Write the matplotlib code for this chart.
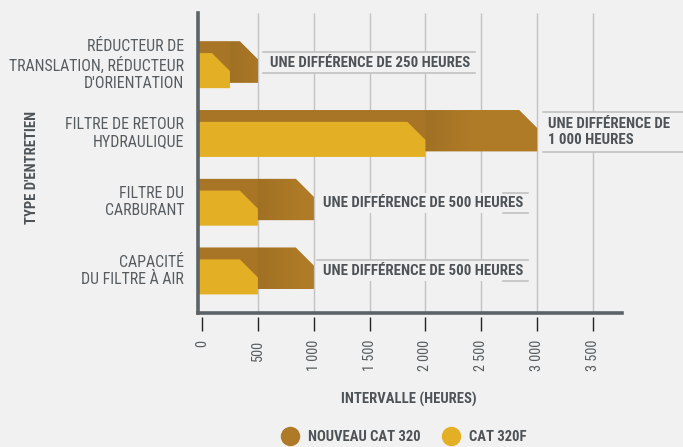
import numpy as np
import matplotlib
matplotlib.use("Agg")
import matplotlib.pyplot as plt
from matplotlib import font_manager
from matplotlib.colors import to_rgb
from matplotlib.patches import Polygon, Rectangle
from matplotlib.lines import Line2D

# Data
categories = ["RÉDUCTEUR DE\nTRANSLATION, RÉDUCTEUR\nD'ORIENTATION",
              "FILTRE DE RETOUR\nHYDRAULIQUE",
              "FILTRE DU\nCARBURANT",
              "CAPACITÉ\nDU FILTRE À AIR"]
new_cat320 = [500, 3000, 1000, 1000]
cat320f = [250, 2000, 500, 500]
diff_labels = ["UNE DIFFÉRENCE DE 250 HEURES",
               "UNE DIFFÉRENCE DE\n1 000 HEURES",
               "UNE DIFFÉRENCE DE 500 HEURES",
               "UNE DIFFÉRENCE DE 500 HEURES"]
xticks = [0, 500, 1000, 1500, 2000, 2500, 3000, 3500]
xtick_labels = ["0", "500", "1 000", "1 500", "2 000", "2 500", "3 000", "3 500"]
series_names = ["NOUVEAU CAT 320", "CAT 320F"]

# Fonts: prefer a condensed face
names = {f.name for f in font_manager.fontManager.ttflist}
fam = "Roboto Condensed" if "Roboto Condensed" in names else "DejaVu Sans"
plt.rcParams["font.family"] = [fam, "DejaVu Sans"]

bg = "#F1F1F1"
dark_col = "#AE7A27"
light_col = "#E3AF24"
spine_col = "#5C6366"
grid_col = "#C2C2C2"
text_dark = "#4E5357"
text_cat = "#565C60"

fig = plt.figure(figsize=(6.83, 4.47), dpi=100, facecolor=bg)
ax = fig.add_axes([198 / 683, 1 - 313 / 447, 424 / 683, 300 / 447])
ax.set_facecolor(bg)

x0, x1 = -36, 3760
y_lo, y_hi = 3.65, -0.713
ax.set_xlim(x0, x1)
ax.set_ylim(y_lo, y_hi)

# grid lines (none at zero, the spine sits there)
ax.vlines(xticks[1:], y_hi, y_lo, color=grid_col, lw=1, zorder=0)

cx = 161     # chamfer width in hours
cy = 0.262   # chamfer height in category units


def chamfer_bar(val, top, bottom, color, z):
    pts = [(x0, top), (val - cx, top), (val, top + cy), (val, bottom), (x0, bottom)]
    poly = Polygon(pts, closed=True, facecolor=color, edgecolor="none", zorder=z)
    ax.add_patch(poly)
    return poly


base = np.array(to_rgb(dark_col))
for i in range(len(categories)):
    poly = chamfer_bar(new_cat320[i], i - 0.30, i + 0.30, dark_col, 2)
    # soft shadow cast by the front bar onto the back bar
    xs = np.linspace(x0, new_cat320[i], 200)
    d = xs - cat320f[i]
    shade = np.where(d < 0, 0.96, 0.92 + 0.09 * np.clip(d / 400, 0, 1))
    img = np.clip(base[None, None, :] * shade[None, :, None], 0, 1)
    im = ax.imshow(img, extent=(x0, new_cat320[i], i + 0.30, i - 0.30), aspect="auto",
                   interpolation="bilinear", zorder=2.1)
    im.set_clip_path(poly)
    chamfer_bar(cat320f[i], i - 0.13, i + 0.38, light_col, 3)

ax.set_xlim(x0, x1)
ax.set_ylim(y_lo, y_hi)

# difference annotations: (text x, box left, box right, top line span, bottom line span) in pixels
ann_layout = [
    (270, 263, 475, (263, 475), (263, 475), 52, 73),
    (548, 543, 700, (543, 700), (543, 700), 112, 152),
    (323, 317, 528, (503, 528), (503, 528), 193, 213),
    (323, 317, 528, (317, 528), (503, 528), 260, 281),
]


def px2x(p):
    return (p - 202) / 0.11171


def py2y(p):
    return (p - 62) / 68.7


for i, (tx, bl, br, tspan, bspan, ytop, ybot) in enumerate(ann_layout):
    ax.add_patch(Rectangle((px2x(bl), py2y(ytop)), px2x(br) - px2x(bl), py2y(ybot) - py2y(ytop),
                           facecolor=bg, edgecolor="none", zorder=1, clip_on=False))
    ax.plot([px2x(tspan[0]), px2x(tspan[1])], [py2y(ytop)] * 2, color=grid_col, lw=1.2,
            zorder=1.5, clip_on=False)
    ax.plot([px2x(bspan[0]), px2x(bspan[1])], [py2y(ybot)] * 2, color=grid_col, lw=1.2,
            zorder=1.5, clip_on=False)
    ax.text(px2x(tx), (py2y(ytop) + py2y(ybot)) / 2, diff_labels[i], ha="left", va="center",
            fontsize=10.7, fontweight="bold", color=text_dark, linespacing=1.2, zorder=4,
            clip_on=False)

# spines
for s in ["top", "right"]:
    ax.spines[s].set_visible(False)
ax.spines["left"].set_color(spine_col)
ax.spines["left"].set_linewidth(2.6)
ax.spines["bottom"].set_color(spine_col)
ax.spines["bottom"].set_linewidth(2.6)
ax.spines["left"].set_zorder(5)

# y labels
ax.set_yticks(range(len(categories)))
ax.set_yticklabels([])
ax.tick_params(axis="y", length=0)
for i, lab in enumerate(categories):
    ax.text(-0.033, i + 0.04, lab, transform=ax.get_yaxis_transform(), ha="right", va="center",
            fontsize=11.4, color=text_cat, linespacing=1.18)

# x ticks drawn with a gap below the spine
ax.set_xticks(xticks)
ax.set_xticklabels([])
ax.tick_params(axis="x", length=0)
ax.vlines(xticks, -0.013, -0.06, transform=ax.get_xaxis_transform(), color="#222222",
          lw=1, clip_on=False)
for xv, lab in zip(xticks, xtick_labels):
    ax.text(xv, -0.09, lab, transform=ax.get_xaxis_transform(), rotation=90, ha="center",
            va="top", fontsize=10.3, color=text_cat)

fig.text(409 / 683, 1 - 399 / 447, "INTERVALLE (HEURES)", ha="center", va="center",
         fontsize=10.5, fontweight="bold", color=text_dark)
fig.text(32 / 683, 1 - 167 / 447, "TYPE D'ENTRETIEN", ha="center", va="center", rotation=90,
         fontsize=10.5, fontweight="bold", color=text_dark)

handles = [Line2D([], [], marker="o", ls="none", markersize=14, markerfacecolor=c,
                  markeredgecolor="none") for c in [dark_col, light_col]]
fig.legend(handles, series_names, loc="center", bbox_to_anchor=(401 / 683, 1 - 437 / 447),
           ncol=2, frameon=False, handletextpad=0.25, columnspacing=1.1,
           prop={"weight": "bold", "size": 10.5}, labelcolor=text_dark)

fig.savefig("out.png", dpi=100, facecolor=bg)
